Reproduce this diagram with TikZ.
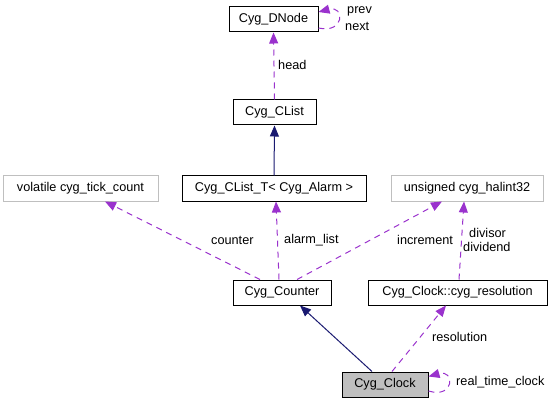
\documentclass[tikz,border=0pt]{standalone}
\usepackage{fontspec}
\setmainfont{Liberation Sans}
\usetikzlibrary{arrows.meta,calc}
\definecolor{dep}{HTML}{9A32CD}
\definecolor{inh}{HTML}{191970}
\definecolor{lgray}{HTML}{BFBFBF}
\begin{document}
\begin{tikzpicture}[x=1pt,y=-1pt,
  every node/.style={font=\fontsize{12.7}{14}\selectfont},
  cls/.style={draw=black,line width=1pt,minimum height=25pt,inner sep=0pt},
  ext/.style={draw=lgray,line width=1pt,minimum height=25pt,inner sep=0pt},
  usage/.style={draw=dep,line width=1pt,dash pattern=on 6pt off 5pt,-{Triangle[length=11pt,width=9pt]}},
  inher/.style={draw=inh,line width=1pt,-{Triangle[length=11pt,width=9pt,fill=inh]}},
  lbl/.style={anchor=west,inner sep=0pt}]
\useasboundingbox (0,0) rectangle (553,403);
\node[cls,minimum width=89pt] (dnode) at (273.5,19.5) {Cyg\_DNode};
\node[cls,minimum width=83pt] (clist) at (274.5,112.5) {Cyg\_CList};
\node[cls,minimum width=184pt] (clistt) at (274,188.5) {Cyg\_CList\_T< Cyg\_Alarm >};
\node[ext,minimum width=155pt] (tick) at (80.5,188.5) {volatile cyg\_tick\_count};
\node[ext,minimum width=152pt] (halint) at (467,188.5) {unsigned cyg\_halint32};
\node[cls,minimum width=98pt] (counter) at (282,292.5) {Cyg\_Counter};
\node[cls,minimum width=179pt] (res) at (457.5,292.5) {Cyg\_Clock::cyg\_resolution};
\node[cls,fill=lgray,minimum width=86pt] (clock) at (385,384.5) {Cyg\_Clock};
% DNode self loop
\draw[usage] ([yshift=-8.5pt]dnode.east) .. controls (345,34) and (345,5) .. ([yshift=7.5pt]dnode.east);
\node[lbl] (lprev) at (347,11) {prev};
\node[lbl] (lnext) at (345,26) {next};
% head
\draw[usage] (clist.north) -- (dnode.south);
\node[lbl] (lhead) at (278,65) {head};
% inheritance CList_T -> CList
\draw[inher] (clistt.north) -- (clist.south);
% counter
\draw[usage] ([xshift=-22pt]counter.north) -- ([xshift=24.5pt]tick.south);
\node[lbl] (lcounter) at (211,240) {counter};
% alarm_list
\draw[usage] ([xshift=-3pt]counter.north) -- ([xshift=2pt]clistt.south);
\node[lbl] (lalarm) at (284,240) {alarm\_list};
% increment
\draw[usage] ([xshift=15pt]counter.north) -- ([xshift=-25pt]halint.south);
\node[lbl] (lincr) at (397,240) {increment};
% divisor / dividend
\draw[usage] ([xshift=1.5pt]res.north) -- ([xshift=-3pt]halint.south);
\node[lbl] (ldiv) at (469,233) {divisor};
\node[lbl] (ldivd) at (463,247) {dividend};
% Clock -> Counter
\draw[inher] ([xshift=-13pt]clock.north) -- ([xshift=18pt]counter.south);
% resolution
\draw[usage] ([xshift=7pt]clock.north) -- ([xshift=-11.5pt]res.south);
\node[lbl] (lres) at (432,337) {resolution};
% real_time_clock self loop
\draw[usage] ([yshift=-6.5pt]clock.east) .. controls (455,399) and (455,369) .. ([yshift=8pt]clock.east);
\node[lbl] (lrtc) at (456,382) {real\_time\_clock};
\end{tikzpicture}
\end{document}
